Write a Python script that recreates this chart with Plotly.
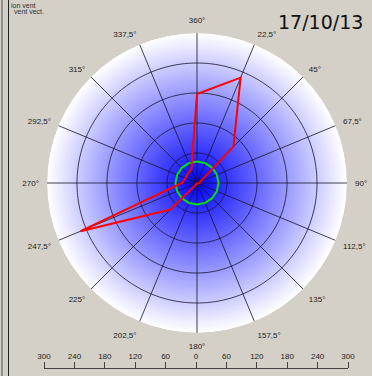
import plotly.graph_objects as go

W, H = 372, 376

# ---- data ----
directions = [0, 22.5, 45, 67.5, 90, 112.5, 135, 157.5, 180, 202.5, 225, 247.5, 270, 292.5, 315, 337.5]
direction_labels = ["360°", "22,5°", "45°", "67,5°", "90°", "112,5°", "135°", "157,5°",
                    "180°", "202,5°", "225°", "247,5°", "270°", "292,5°", "315°", "337,5°"]
wind_vector = [178, 228, 103, 7, 5, 2, 1, 1, 1, 2, 75, 252, 30, 25, 26, 30]
calm_circle = [43] * 16
ring_values = [60, 120, 180, 240]
r_max = 300
scale_vals = [-300, -240, -180, -120, -60, 0, 60, 120, 180, 240, 300]
scale_text = [str(abs(v)) for v in scale_vals]
date_text = "17/10/13"

fig = go.Figure()

# radial gradient background (blue centre -> white edge), discs from large to small
n = 150
radii = [r_max * (n - i) / n for i in range(n)]
cols = []
for rr in radii:
    t = rr / r_max
    c = int(round(255 * t))
    cols.append(f"rgb({c},{c},255)")
fig.add_trace(go.Barpolar(r=radii, theta=[0] * n, base=0, width=[360] * n,
                          marker=dict(color=cols, line=dict(width=0)),
                          hoverinfo="skip", showlegend=False))

grid_col = "rgba(20,20,40,0.8)"
# radial spokes
sr, st = [], []
for d in directions:
    sr += [0, r_max, None]
    st += [d, d, d]
fig.add_trace(go.Scatterpolar(r=sr, theta=st, mode="lines",
                              line=dict(color=grid_col, width=1),
                              hoverinfo="skip", showlegend=False, connectgaps=False))
# rings
npts = 241
cr, ct = [], []
for rv in ring_values:
    for k in range(npts):
        cr.append(rv)
        ct.append(360 * k / (npts - 1))
    cr.append(None)
    ct.append(0)
fig.add_trace(go.Scatterpolar(r=cr, theta=ct, mode="lines",
                              line=dict(color=grid_col, width=1),
                              hoverinfo="skip", showlegend=False, connectgaps=False))

# green calm circle
fig.add_trace(go.Scatterpolar(r=calm_circle + [calm_circle[0]], theta=directions + [directions[0]],
                              mode="lines", line=dict(color="rgb(0,230,0)", width=2),
                              name="calm", showlegend=False))
# red wind vector polygon
fig.add_trace(go.Scatterpolar(r=wind_vector + [wind_vector[0]], theta=directions + [directions[0]],
                              mode="lines", line=dict(color="rgb(255,0,0)", width=2),
                              name="vent vect.", showlegend=False))

# invisible trace carrying the bottom scale axis
fig.add_trace(go.Scatter(x=scale_vals, y=[0] * len(scale_vals), xaxis="x2", yaxis="y2",
                         mode="markers", marker=dict(opacity=0, size=1), hoverinfo="skip",
                         showlegend=False, cliponaxis=True))

cx, cy, R = 197, 183, 150
small_font = dict(family="Liberation Sans Narrow, Arial Narrow, Liberation Sans, Arial",
                  size=8, color="#202020")

fig.update_layout(
    width=W, height=H, autosize=False,
    margin=dict(l=0, r=0, t=0, b=0, pad=0, autoexpand=False),
    paper_bgcolor="#d4d0c8", plot_bgcolor="rgba(0,0,0,0)",
    polar=dict(
        domain=dict(x=[(cx - R) / W, (cx + R) / W], y=[(H - cy - R) / H, (H - cy + R) / H]),
        bgcolor="rgba(0,0,0,0)",
        radialaxis=dict(range=[0, r_max], showgrid=False, showticklabels=False,
                        showline=False, ticks=""),
        angularaxis=dict(rotation=90, direction="clockwise", tickmode="array",
                         tickvals=directions, ticktext=direction_labels, showgrid=False,
                         showline=False, ticks="outside", ticklen=6,
                         tickcolor="rgba(0,0,0,0)", tickfont=small_font),
    ),
    xaxis2=dict(domain=[44 / W, 348 / W], range=[-300, 300], anchor="y2", side="top",
                tickmode="array", tickvals=scale_vals, ticktext=scale_text,
                ticks="outside", ticklen=6, tickcolor="#404040", showline=True,
                linecolor="#404040", linewidth=1, showgrid=False, zeroline=False,
                tickfont=small_font, fixedrange=True, automargin=False),
    yaxis2=dict(domain=[0, 7 / H], visible=False, fixedrange=True, automargin=False),
    xaxis=dict(visible=False, automargin=False), yaxis=dict(visible=False, automargin=False),
    showlegend=False,
)

fig.add_annotation(x=365 / W, y=1 - 22 / H, xref="paper", yref="paper", text=date_text,
                   showarrow=False, xanchor="right", yanchor="middle",
                   font=dict(family="DejaVu Sans, Verdana", size=19, color="#101010"))
fig.add_annotation(x=9 / W, y=1 - 5 / H, xref="paper", yref="paper", text="ion vent",
                   showarrow=False, xanchor="left", yanchor="middle",
                   font=dict(family="Liberation Sans, Arial", size=7, color="#303030"))
fig.add_annotation(x=12 / W, y=1 - 12 / H, xref="paper", yref="paper", text="vent vect.",
                   showarrow=False, xanchor="left", yanchor="middle",
                   font=dict(family="Liberation Sans, Arial", size=7, color="#303030"))

# window frame lines on the left
fig.add_shape(type="line", xref="paper", yref="paper", x0=2 / W, x1=2 / W, y0=0, y1=1,
              line=dict(color="#505050", width=1))
fig.add_shape(type="line", xref="paper", yref="paper", x0=8.5 / W, x1=8.5 / W, y0=0, y1=1,
              line=dict(color="#202020", width=1))

fig.write_html("out.html", config={"displayModeBar": False},
               post_script="document.body.style.margin='0px';document.body.style.overflow='hidden';")
